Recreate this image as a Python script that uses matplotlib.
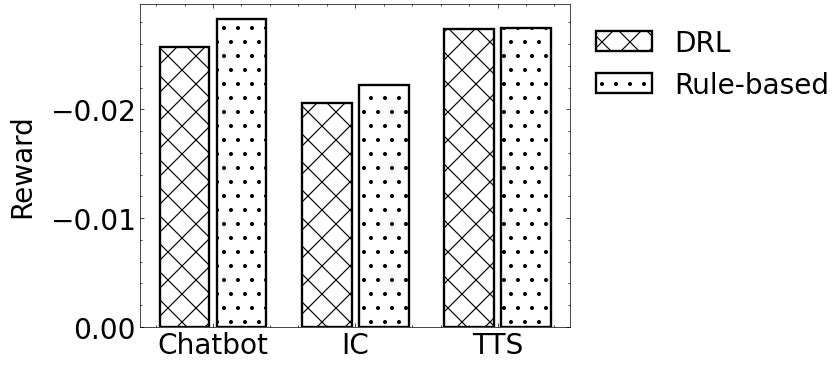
import numpy as np
import matplotlib.pyplot as plt
from matplotlib.ticker import AutoMinorLocator, MultipleLocator

# rewards per service (negative values, axis flipped so 0 is at the bottom)
services = ['Chatbot', 'IC', 'TTS']
drl_reward = [-0.0257, -0.0206, -0.0274]
rule_reward = [-0.0283, -0.0222, -0.0275]

plt.rcParams['font.size'] = 24
plt.rcParams['hatch.linewidth'] = 1.0

fig = plt.figure(figsize=(834 / 84, 366 / 84), dpi=84)
ax = fig.add_axes([0.168, 0.104, 0.516, 0.883])

x = np.arange(len(services))
w = 0.35
ax.bar(x - 0.2, drl_reward, w, color='white', edgecolor='black',
       linewidth=2, hatch='x', label='DRL')
ax.bar(x + 0.2, rule_reward, w, color='white', edgecolor='black',
       linewidth=2, hatch='.', label='Rule-based')

ax.invert_yaxis()
ax.set_ylabel('Reward', labelpad=12)
ax.set_xticks(x)
ax.set_xticklabels(services)
ax.yaxis.set_major_locator(MultipleLocator(0.01))
ax.yaxis.set_minor_locator(MultipleLocator(0.002))
ax.xaxis.set_minor_locator(AutoMinorLocator(5))

for s in ax.spines.values():
    s.set_linewidth(0.6)
ax.tick_params(which='both', direction='in', top=True, right=True, width=0.6)
ax.tick_params(which='major', length=3.5)
ax.tick_params(which='minor', length=1.8)

ax.legend(loc='upper left', bbox_to_anchor=(1.0, 1.0), frameon=False,
          handlelength=2.0, borderaxespad=0.5)

fig.savefig('out.png', dpi=84)
